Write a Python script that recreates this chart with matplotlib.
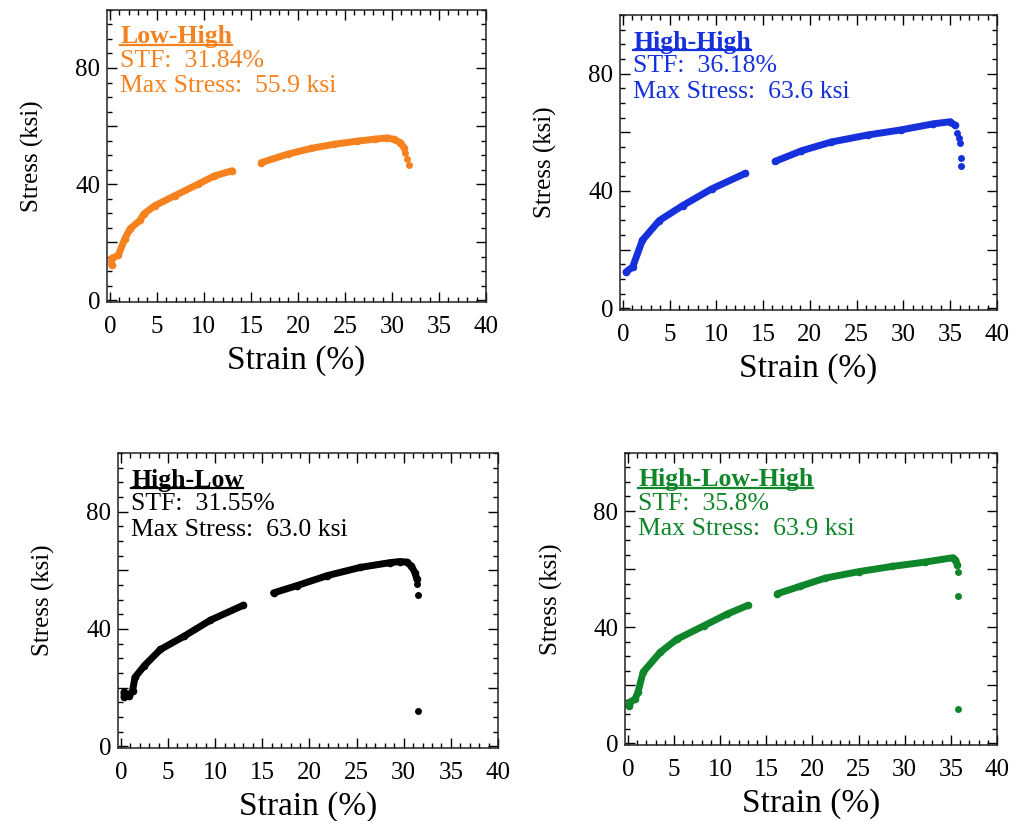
import matplotlib
matplotlib.use("Agg")
import matplotlib.pyplot as plt
from matplotlib.ticker import MultipleLocator
from matplotlib.lines import Line2D

plt.rcParams['font.family'] = ['Liberation Serif', 'DejaVu Serif']

# Stress-strain readings (strain in %, stress in ksi), split where the extensometer was reset
lh_strain_a = [0.2, 0.2, 0.9, 1.6, 2.15, 3.2, 3.6, 4.8, 6.9, 9.4, 11.1, 13.0]
lh_stress_a = [12.1, 14.4, 15.5, 21.2, 24.6, 27.5, 29.7, 32.6, 36.0, 40.0, 42.8, 44.6]
lh_strain_b = [16.1, 18.9, 21.4, 23.8, 26.3, 28.2, 29.5, 30.2, 30.9, 31.3]
lh_stress_b = [47.4, 50.3, 52.3, 53.7, 54.8, 55.5, 55.9, 55.4, 54.3, 52.5]
lh_strain_c = [31.4, 31.6, 31.84]
lh_stress_c = [50.8, 48.5, 46.5]

hh_strain_a = [0.35, 1.06, 2.1, 3.9, 6.4, 9.5, 13.1]
hh_stress_a = [12.4, 14.1, 23.2, 29.9, 35.0, 40.7, 46.0]
hh_strain_b = [16.3, 19.1, 22.3, 26.2, 29.7, 33.2, 35.0, 35.5]
hh_stress_b = [50.1, 53.7, 56.7, 59.1, 60.8, 62.9, 63.6, 62.4]
hh_strain_c = [35.7, 35.9, 36.1, 36.15, 36.18]
hh_stress_c = [59.9, 58.2, 56.2, 51.1, 48.6]

hl_strain_a = [0.35, 0.35, 0.9, 1.25, 1.5, 2.5, 4.2, 6.7, 9.5, 13.0]
hl_stress_a = [18.5, 16.8, 17.3, 19.0, 23.5, 27.5, 33.0, 37.5, 43.0, 48.1]
hl_strain_b = [16.2, 18.7, 21.9, 25.4, 28.5, 29.6, 30.3, 30.8, 31.2, 31.4]
hl_stress_b = [52.3, 54.8, 58.2, 61.0, 62.6, 63.0, 62.8, 61.5, 59.2, 56.9]
hl_strain_c = [31.45, 31.55, 31.55]
hl_stress_c = [55.2, 51.5, 11.9]

hlh_strain_a = [0.1, 0.2, 0.76, 1.1, 1.66, 3.5, 5.3, 8.2, 10.7, 13.0]
hlh_stress_a = [12.9, 14.2, 15.1, 17.6, 24.5, 31.3, 35.8, 40.4, 44.4, 47.5]
hlh_strain_b = [16.2, 18.6, 21.4, 25.0, 28.6, 32.2, 35.2, 35.5, 35.7]
hlh_stress_b = [51.5, 54.0, 56.9, 59.1, 60.9, 62.4, 63.9, 63.1, 61.4]
hlh_strain_c = [35.75, 35.8, 35.8]
hlh_stress_c = [58.9, 50.6, 11.7]

names = ['Low-High', 'High-High', 'High-Low', 'High-Low-High']
stf = ['31.84%', '36.18%', '31.55%', '35.8%']
max_stress = ['55.9', '63.6', '63.0', '63.9']
colors = ['#f5821f', '#1630dc', '#000000', '#10862a']

yticks = [0, 20, 40, 60, 80]
ytick_labels = ['0', '', '40', '', '80']
xticks = [0, 5, 10, 15, 20, 25, 30, 35, 40]

data = [
    (lh_strain_a, lh_stress_a, lh_strain_b, lh_stress_b, lh_strain_c, lh_stress_c),
    (hh_strain_a, hh_stress_a, hh_strain_b, hh_stress_b, hh_strain_c, hh_stress_c),
    (hl_strain_a, hl_stress_a, hl_strain_b, hl_stress_b, hl_strain_c, hl_stress_c),
    (hlh_strain_a, hlh_stress_a, hlh_strain_b, hlh_stress_b, hlh_strain_c, hlh_stress_c),
]

# panel boxes [left, bottom, width, height] in figure fractions
boxes = [
    [0.1051, 0.6322, 0.3723, 0.3557],
    [0.6090, 0.6224, 0.3703, 0.3593],
    [0.1159, 0.0889, 0.3733, 0.3593],
    [0.6140, 0.0926, 0.3654, 0.3557],
]

fig = plt.figure(figsize=(10.18, 8.21), dpi=100)

titles = []
for i in range(4):
    ax = fig.add_axes(boxes[i])
    xa, ya, xb, yb, xc, yc = data[i]
    c = colors[i]
    for xs, ys in [(xa, ya), (xb, yb)]:
        ax.plot(xs, ys, '-', color=c, lw=5, solid_capstyle='round',
                solid_joinstyle='round')
        ax.plot(xs, ys, 'o', color=c, ms=5.5, mew=0)
    ax.plot(xc, yc, 'o', color=c, ms=5, mew=0)

    ax.set_xlim(-0.3, 40)
    ax.set_ylim(-0.6, 100)
    ax.set_xticks(xticks)
    ax.set_yticks(yticks)
    ax.set_yticklabels(ytick_labels)
    ax.xaxis.set_minor_locator(MultipleLocator(1))
    ax.yaxis.set_minor_locator(MultipleLocator(5))
    ax.tick_params(which='both', direction='in', top=True, right=True,
                   width=1.0, labelsize=18)
    ax.tick_params(axis='x', which='major', pad=10)
    ax.tick_params(axis='y', which='major', pad=5)
    ax.tick_params(which='major', length=7.5)
    ax.tick_params(which='minor', length=3.5)
    for s in ax.spines.values():
        s.set_linewidth(1.1)
        s.set_color('#222222')

    ax.set_xlabel('Strain (%)', fontsize=24, labelpad=5)
    ax.set_ylabel('Stress (ksi)', fontsize=18, labelpad=22)

    t = ax.text(0.035, 0.908, names[i], transform=ax.transAxes, color=c,
                fontsize=18.5, fontweight='bold', va='center', ha='left')
    titles.append((t, c))
    ax.text(0.035, 0.826, 'STF:  ' + stf[i], transform=ax.transAxes,
            color=c, fontsize=18.5, va='center', ha='left')
    ax.text(0.035, 0.738, 'Max Stress:  ' + max_stress[i] + ' ksi',
            transform=ax.transAxes, color=c, fontsize=18.5, va='center', ha='left')

# underline the bold panel names, just under the baseline
fig.canvas.draw()
renderer = fig.canvas.get_renderer()
inv = fig.transFigure.inverted()
for t, c in titles:
    bb = t.get_window_extent(renderer)
    (x0, y0), (x1, _) = inv.transform([[bb.x0, bb.y0 + 3.5], [bb.x1, bb.y1]])
    fig.add_artist(Line2D([x0, x1], [y0, y0], color=c, lw=1.6,
                          transform=fig.transFigure))

fig.savefig('out.png', dpi=100)
